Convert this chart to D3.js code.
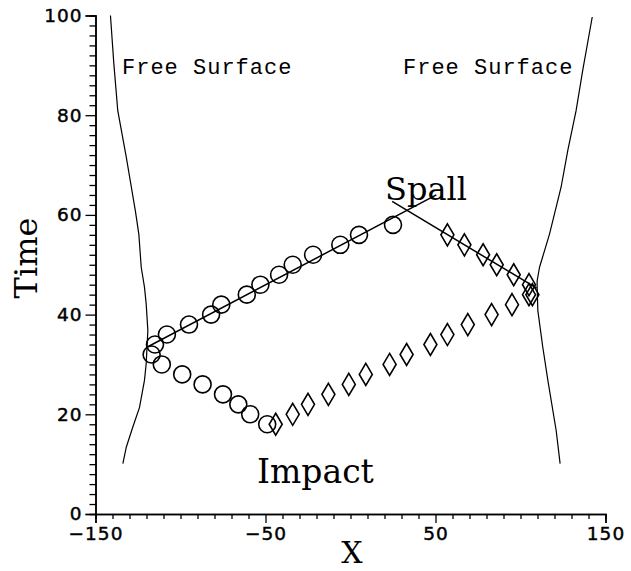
<!DOCTYPE html>
<html><head><meta charset="utf-8">
<script src="https://cdn.jsdelivr.net/npm/d3@7"></script>
<style>body{margin:0;background:#fff}svg{display:block}</style>
</head><body>
<svg id="c" width="631" height="571"></svg>
<script>
// ---- data ----
const circUpperX = [-115,-108,-95,-82,-76,-61,-53,-42,-34,-22,-6,5,25];
const circUpperY = [34,36,38,40,42,44,46,48,50,52,54,56,58];
const circLowerX = [-117,-111,-99,-87,-75,-66,-59,-49];
const circLowerY = [32,30,28,26,24,22,20,18];
const diaLowerX = [-44,-34,-25,-13,-1,9,23,33,47,57,69,83,95,105];
const diaLowerY = [18,20,22,24,26,28,30,32,34,36,38,40,42,44];
const diaUpperX = [57,67,78,86,96,105,107];
const diaUpperY = [56,54,52,50,48,46,44];
const freeLeftX = [-141.2,-139.2,-136.9,-131.9,-126.5,-124.5,-123.1,-121.2,-120.2,-119.2,-120.2,-121.2,-124.1,-128.1,-131.9,-133.9];
const freeLeftY = [100,90.3,80.9,71.6,60.7,56.1,49.5,45.5,42.2,36.8,30.1,26.8,21.4,17.4,13.4,10.1];
const freeRightX = [142.2,136.6,132.7,127.8,123.9,117.1,111.2,109.8,109.8,110.2,113.1,116.1,121.0,123.3];
const freeRightY = [99.7,89.0,80.9,72.9,65.6,56.2,49.5,46.8,45.5,40.8,33.5,26.8,16.7,10.1];
const spallRiseX = [-119.5,50.5];
const spallRiseY = [33.5,64];
const spallFallX = [24.5,109.5];
const spallFallY = [62.7,45.3];
const xTickLabels = [-150,-50,50,150];
const yTickLabels = [0,20,40,60,80,100];

// ---- chart ----
const svg = d3.select('#c');
const x = d3.scaleLinear().domain([-150,150]).range([95.5,605.5]);
const y = d3.scaleLinear().domain([0,100]).range([514,15.5]);
const g = svg.append('g');
const line = d3.line().x(d=>x(d[0])).y(d=>y(d[1]));
const zip = (a,b)=>a.map((v,i)=>[v,b[i]]);

// axes
const xMinor = d3.range(-150,151,10).filter(v=>!xTickLabels.includes(v));
const yMinor = d3.range(0,101,2).filter(v=>!yTickLabels.includes(v));
const xAxisMinor = d3.axisBottom(x).tickValues(xMinor).tickSize(5).tickFormat('');
const xAxisMajor = d3.axisBottom(x).tickValues(xTickLabels).tickSize(9).tickPadding(4).tickFormat(d=>d<0?'\u2212'+(-d):d);
const yAxisMinor = d3.axisLeft(y).tickValues(yMinor).tickSize(6).tickFormat('');
const yAxisMajor = d3.axisLeft(y).tickValues(yTickLabels).tickSize(10).tickPadding(3);
[xAxisMinor,xAxisMajor].forEach(a=>g.append('g').attr('transform','translate(0,514)').call(a));
[yAxisMinor,yAxisMajor].forEach(a=>g.append('g').attr('transform','translate(95.5,0)').call(a));
g.selectAll('.domain').attr('stroke','#000').attr('stroke-width',1.5);
g.selectAll('.tick line').attr('stroke','#000').attr('stroke-width',1.3);
g.selectAll('.tick text').attr('fill','#000')
  .style('font-family','DejaVu Sans, sans-serif').style('font-size','18.5px')
  .style('letter-spacing','1px').attr('stroke','#000').attr('stroke-width',0.45);

// free surfaces
[[freeLeftX,freeLeftY],[freeRightX,freeRightY]].forEach(([a,b])=>{
  g.append('path').attr('d',line(zip(a,b))).attr('fill','none').attr('stroke','#000').attr('stroke-width',1.2);
});
// spall lines
[[spallRiseX,spallRiseY],[spallFallX,spallFallY]].forEach(([a,b])=>{
  g.append('path').attr('d',line(zip(a,b))).attr('fill','none').attr('stroke','#000').attr('stroke-width',1.5);
});
// circles
g.selectAll('circle.m').data(zip(circUpperX,circUpperY).concat(zip(circLowerX,circLowerY))).enter()
  .append('circle').attr('cx',d=>x(d[0])).attr('cy',d=>y(d[1])).attr('r',8.5)
  .attr('fill','none').attr('stroke','#000').attr('stroke-width',1.6);
// diamonds
const dia = d3.symbol().type({draw(ctx){ctx.moveTo(0,-11);ctx.lineTo(6.5,0);ctx.lineTo(0,11);ctx.lineTo(-6.5,0);ctx.closePath();}});
g.selectAll('path.d').data(zip(diaLowerX,diaLowerY).concat(zip(diaUpperX,diaUpperY))).enter()
  .append('path').attr('d',dia()).attr('transform',d=>`translate(${x(d[0])},${y(d[1])})`)
  .attr('fill','none').attr('stroke','#000').attr('stroke-width',1.6);

// annotations
const mono = 'Liberation Mono, DejaVu Sans Mono, monospace';
const serif = 'DejaVu Serif, serif';
g.append('text').attr('x',122).attr('y',74).text('Free Surface').attr('font-family',mono).attr('font-size',22).attr('letter-spacing','1px');
g.append('text').attr('x',403).attr('y',74).text('Free Surface').attr('font-family',mono).attr('font-size',22).attr('letter-spacing','1px');
g.append('text').attr('x',385).attr('y',200).text('Spall').attr('font-family',serif).attr('font-size',32);
g.append('text').attr('x',257).attr('y',483).text('Impact').attr('font-family',serif).attr('font-size',33);
g.append('text').attr('transform','translate(37,258) rotate(-90)').attr('text-anchor','middle').text('Time').attr('font-family',serif).attr('font-size',32);
g.append('text').attr('x',352).attr('y',563).attr('text-anchor','middle').text('X').attr('font-family',serif).attr('font-size',30);
</script>
</body></html>
